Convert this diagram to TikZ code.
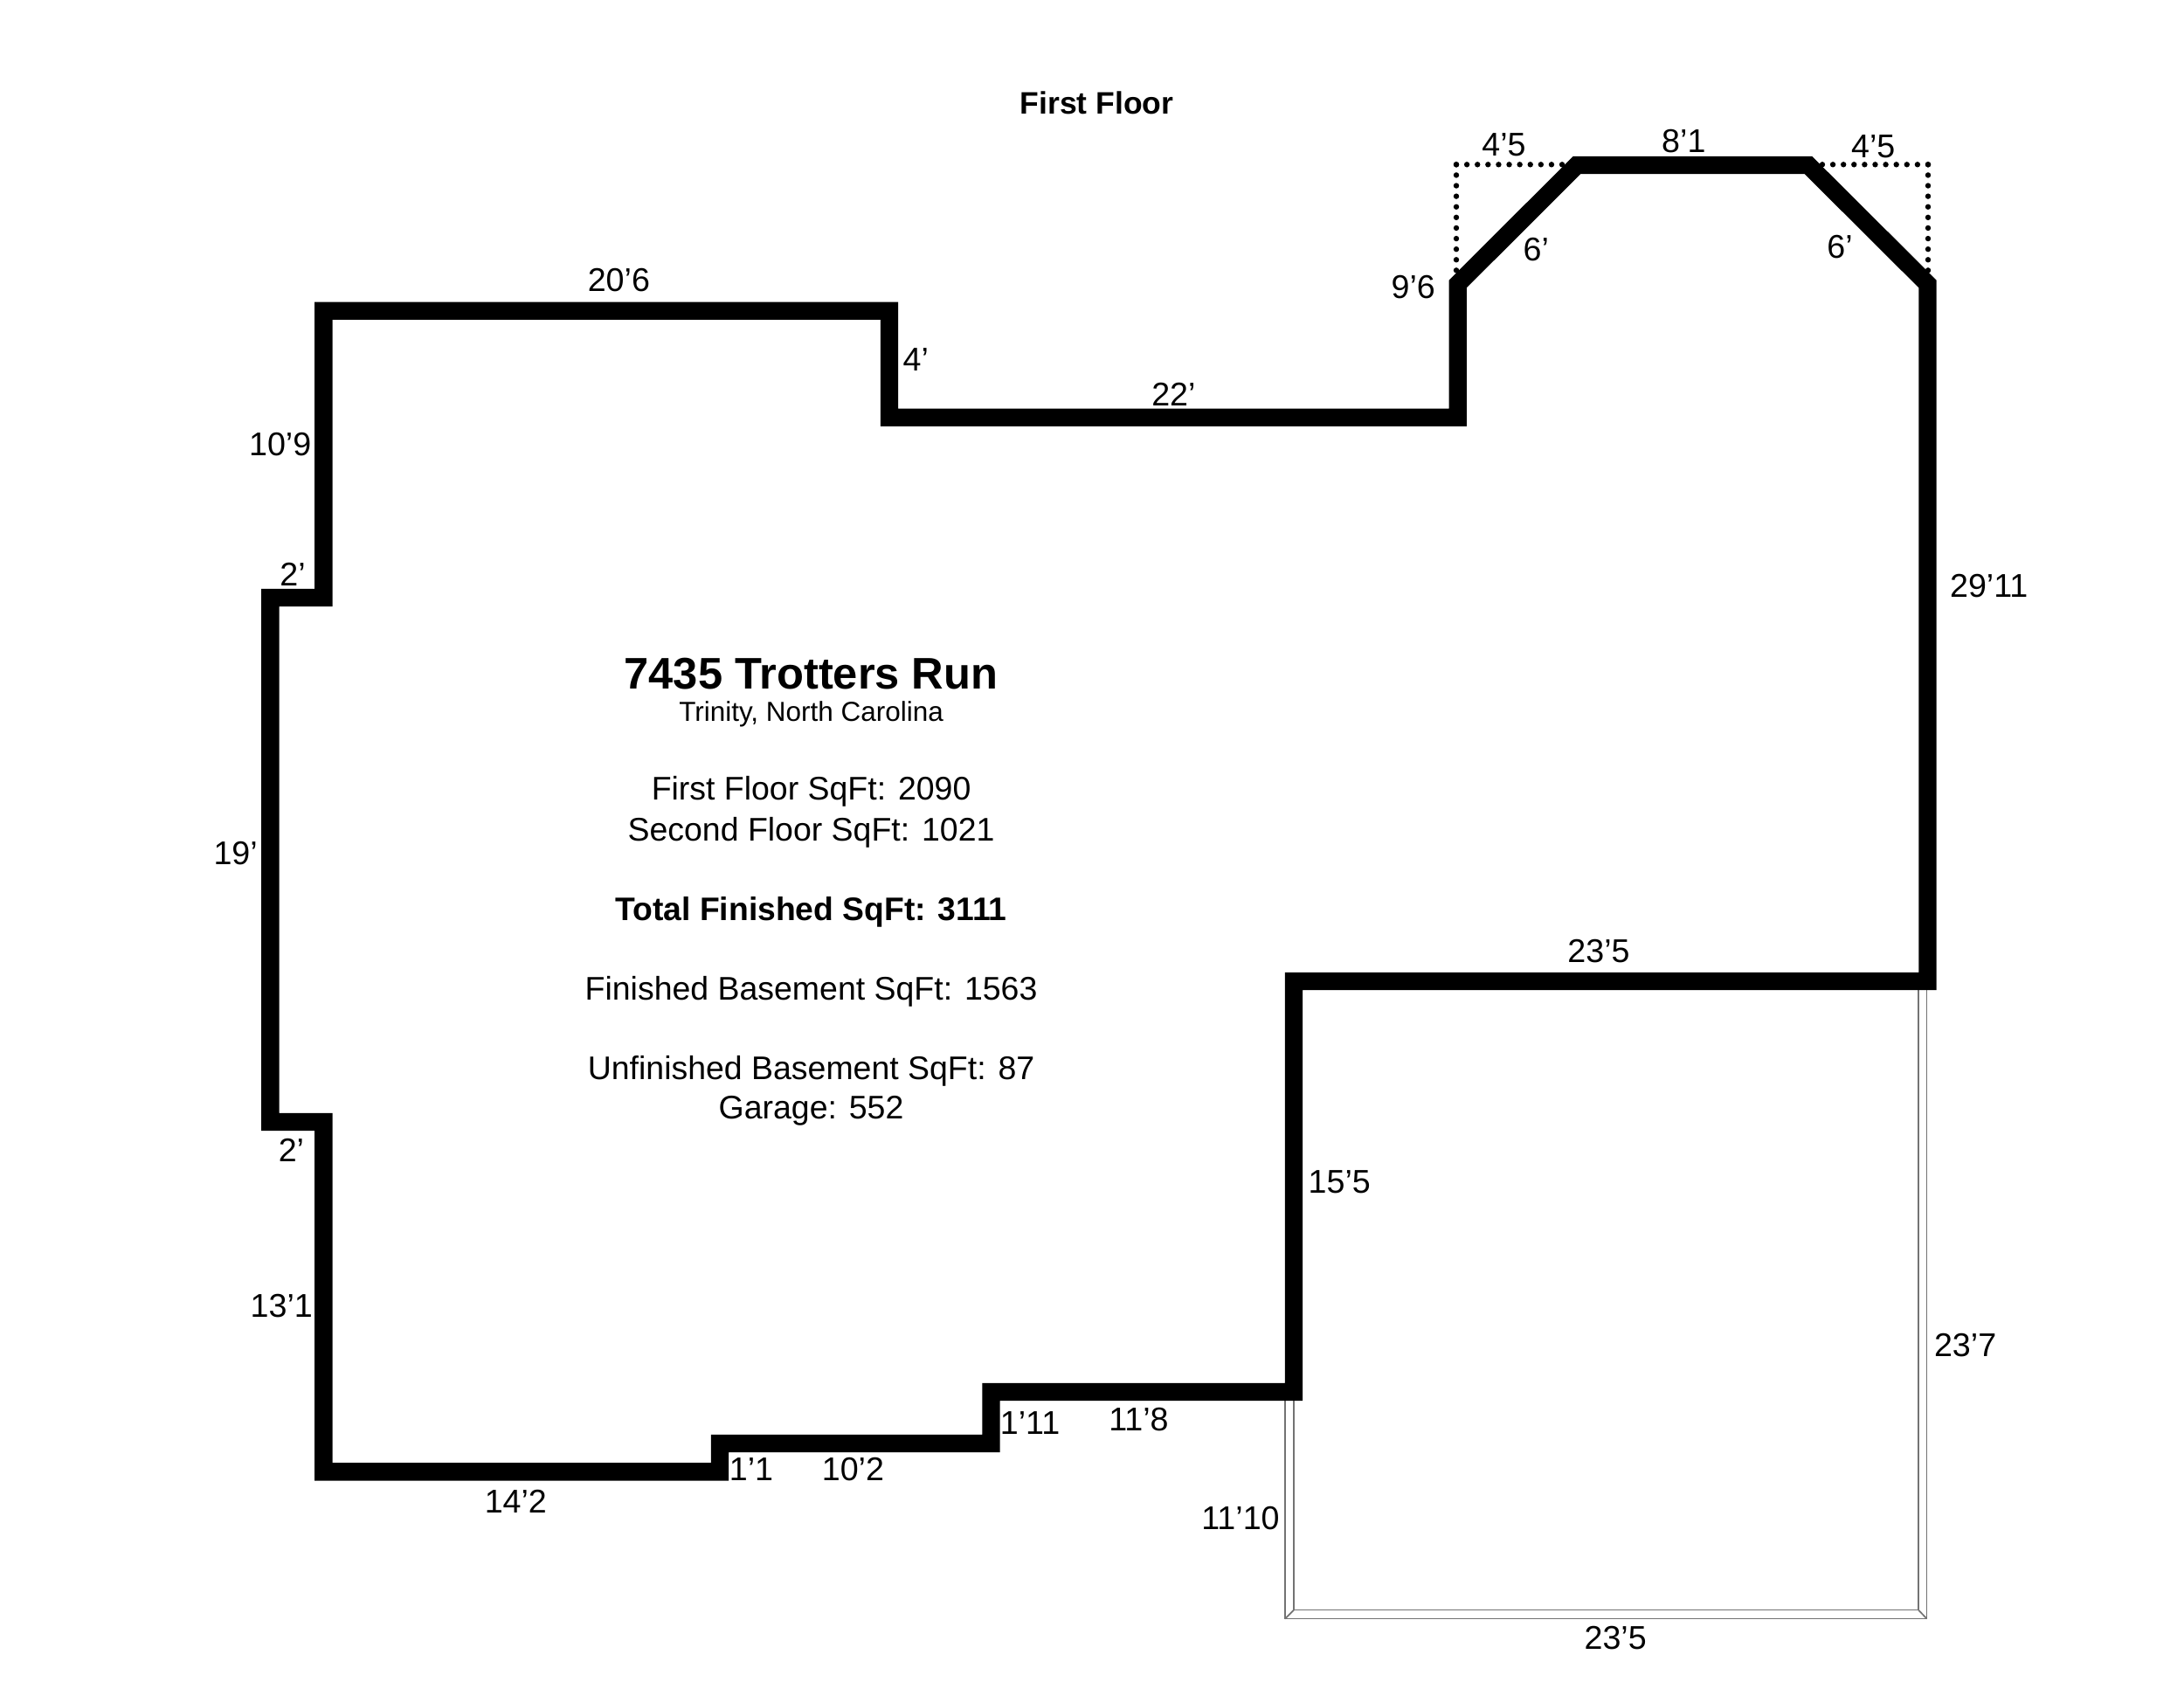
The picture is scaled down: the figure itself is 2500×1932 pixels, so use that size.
\documentclass[tikz,border=0pt]{standalone}
\usepackage{fontspec}
\setmainfont{Liberation Sans}
\tikzset{
  wall/.style={line width=20.4*0.2845pt,line join=miter,miter limit=10,black},
  dots/.style={line width=6.4*0.2845pt,line cap=round,dash pattern=on 0pt off 12.1*0.2845pt,black},
  garageline/.style={line width=1.7*0.2845pt,draw=black!55},
  lbl/.style={inner sep=0pt,font=\fontsize{10.7}{12}\selectfont},
  body/.style={inner sep=0pt,font=\fontsize{10.65}{12}\selectfont},
  head/.style={inner sep=0pt,font=\fontsize{10.1}{12}\selectfont\bfseries},
  totalline/.style={inner sep=0pt,font=\fontsize{10.6}{12}\selectfont\bfseries},
  bigtitle/.style={inner sep=0pt,font=\fontsize{14.4}{16}\selectfont\bfseries},
  subtitle/.style={inner sep=0pt,font=\fontsize{8.95}{10}\selectfont}
}
\begin{document}
\begin{tikzpicture}[x=0.01cm,y=-0.01cm]
\useasboundingbox (0,0) rectangle (2500,1932);
\fill[white] (0,0) rectangle (2500,1932);
% garage
\draw[garageline] (1471,1600) -- (1471,1852.5) -- (2205.5,1852.5) -- (2205.5,1133);
\draw[garageline] (1481,1600) -- (1481,1842.5) -- (2196,1842.5) -- (2196,1133);
\draw[garageline] (1471,1852.5) -- (1481,1842.5);
\draw[garageline] (2205.5,1852.5) -- (2196,1842.5);
% dotted bay outline
\draw[dots] (1667,188.3) -- (1667,312);
\draw[dots] (1667,188.3) -- (1790,188.3);
\draw[dots] (2207,188.3) -- (2207,312);
\draw[dots] (2207,188.3) -- (2084,188.3);
% walls
\draw[wall] (370.3,355.7) -- (1018,355.7) -- (1018,477.7) -- (1668.7,477.7) -- (1668.7,325)
  -- (1805,189) -- (2070,189) -- (2206.5,325) -- (2206.5,1123) -- (1481,1123)
  -- (1481,1593) -- (1134.5,1593) -- (1134.5,1652) -- (824,1652) -- (824,1684.3)
  -- (370.3,1684.3) -- (370.3,1284) -- (309.3,1284) -- (309.3,684) -- (370.3,684) -- cycle;
\begin{scope}[x=0.015944cm,y=-0.015944cm]
\node[head] (title) at (787,74) {First Floor};
\node[lbl] (a1) at (444,201) {20’6};
\node[lbl] (a2) at (657,258) {4’};
\node[lbl] (a3) at (842,283) {22’};
\node[lbl] (a4) at (1014,206) {9’6};
\node[lbl] (a5) at (1079,104) {4’5};
\node[lbl] (a6) at (1208,101) {8’1};
\node[lbl] (a7) at (1344,105) {4’5};
\node[lbl] (a8) at (1102,179) {6’};
\node[lbl] (a9) at (1320,177) {6’};
\node[lbl] (a10) at (1427,420) {29’11};
\node[lbl] (a11) at (201,319) {10’9};
\node[lbl] (a12) at (210,412) {2’};
\node[lbl] (a13) at (169,612) {19’};
\node[lbl] (a14) at (209,825) {2’};
\node[lbl] (a15) at (202,937) {13’1};
\node[lbl] (a16) at (370,1077) {14’2};
\node[lbl] (a17) at (539,1054) {1’1};
\node[lbl] (a18) at (612,1054) {10’2};
\node[lbl] (a19) at (739,1021) {1’11};
\node[lbl] (a20) at (817,1018) {11’8};
\node[lbl] (a21) at (961,848) {15’5};
\node[lbl] (a22) at (1147,682) {23’5};
\node[lbl] (a23) at (1410,965) {23’7};
\node[lbl] (a24) at (890,1089) {11’10};
\node[lbl] (a25) at (1159,1175) {23’5};
\node[bigtitle] (t1) at (582,483.5) {7435 Trotters Run};
\node[subtitle] (t2) at (582,512.5) {Trinity, North Carolina};
\node[body] (t3) at (582,568) {First Floor SqFt: 2090};
\node[body] (t4) at (582,597) {Second Floor SqFt: 1021};
\node[totalline] (t5) at (582,654) {Total Finished SqFt: 3111};
\node[body] (t6) at (582,711) {Finished Basement SqFt: 1563};
\node[body] (t7) at (582,768) {Unfinished Basement SqFt: 87};
\node[body] (t8) at (582,797) {Garage: 552};
\end{scope}
\end{tikzpicture}
\end{document}
